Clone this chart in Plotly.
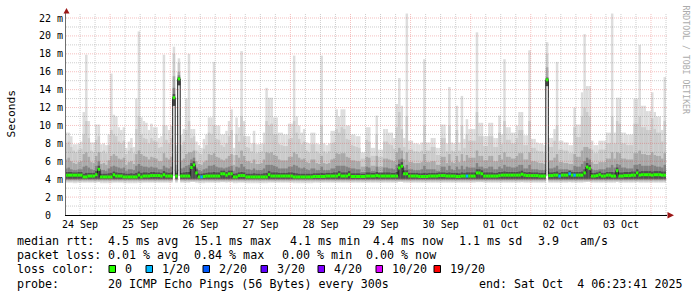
import pandas as pd
import plotly.graph_objects as go

# ---------------- data (milliseconds, one value per hour) ----------------
# first bin starts 2025-09-24 06:00, last graph instant 2025-10-04 06:23:41
ping_max = [
    9.2, 9.2, 8.8, 7.9, 7.9, 8.0, 8.2, 11.5, 17.9, 10.5, 8.1, 8.1, 10.1, 10.1, 7.9, 8.0, 7.8, 9.0, 15.8, 11.2,
    11.0, 9.8, 9.5, 9.8, 7.5, 8.2, 8.6, 7.6, 13.0, 20.5, 10.9, 10.5, 10.3, 9.5, 10.2, 9.8, 9.8, 8.6, 8.8, 17.9,
    10.0, 9.5, 10.0, 18.8, 7.8, 17.5, 9.0, 9.6, 13.0, 18.0, 9.6, 9.6, 8.2, 7.8, 7.5, 8.5, 9.0, 10.9, 10.9, 17.1,
    10.0, 10.0, 9.0, 9.0, 9.4, 10.5, 11.8, 7.5, 10.9, 9.8, 18.3, 10.5, 8.8, 8.8, 8.0, 9.4, 7.9, 7.9, 8.0, 9.2,
    14.2, 13.1, 13.1, 10.9, 10.9, 9.2, 9.2, 9.0, 9.0, 10.2, 10.2, 17.8, 11.0, 10.0, 9.2, 9.6, 8.1, 8.0, 9.2, 9.2,
    8.0, 7.9, 17.8, 8.0, 7.8, 8.0, 9.4, 9.4, 11.8, 11.0, 11.8, 11.8, 10.0, 10.0, 9.0, 9.0, 8.8, 8.8, 7.0, 7.0,
    9.8, 9.8, 7.5, 7.5, 11.1, 7.3, 7.3, 9.6, 9.6, 9.2, 9.2, 8.6, 12.4, 15.3, 12.2, 8.6, 22.5, 8.3, 8.3, 8.0,
    8.0, 7.9, 8.1, 17.4, 8.1, 8.1, 8.6, 8.6, 7.5, 7.5, 10.1, 10.1, 8.0, 14.3, 8.1, 8.0, 12.2, 8.1, 13.3, 8.5,
    10.7, 9.6, 9.6, 9.6, 20.4, 10.3, 10.3, 8.8, 8.8, 10.3, 10.3, 8.6, 8.6, 11.1, 9.0, 17.4, 9.8, 9.8, 9.2, 9.2,
    10.0, 11.5, 11.5, 8.9, 8.9, 18.4, 8.5, 8.5, 8.1, 8.0, 8.0, 7.8, 19.3, 8.6, 8.6, 9.6, 17.1, 8.3, 8.3, 8.1,
    8.1, 7.8, 7.8, 12.0, 10.1, 10.1, 13.7, 20.2, 14.4, 14.4, 8.3, 7.8, 7.8, 8.3, 8.3, 8.3, 9.2, 9.2, 22.5, 9.2,
    13.1, 13.1, 9.2, 9.2, 9.0, 9.0, 9.0, 13.0, 13.0, 19.0, 12.2, 12.2, 11.6, 11.6, 13.7, 11.5, 11.0, 11.0, 9.5, 15.4,
]
band2_top = [
    8.0, 8.2, 7.6, 7.2, 7.0, 7.3, 7.4, 9.0, 10.5, 8.6, 7.2, 7.0, 8.4, 8.8, 7.0, 7.2, 6.9, 7.8, 9.5, 9.0,
    8.8, 8.2, 8.0, 8.3, 6.8, 7.2, 7.5, 6.9, 9.6, 11.0, 9.0, 8.6, 8.5, 8.0, 8.6, 8.3, 8.2, 7.5, 7.6, 10.0,
    8.4, 8.0, 8.6, 18.0, 6.8, 17.0, 7.8, 8.2, 9.5, 10.5, 8.6, 8.8, 7.2, 6.9, 6.8, 7.4, 7.8, 9.2, 9.0, 10.0,
    8.5, 8.4, 7.8, 7.6, 8.0, 8.8, 9.5, 6.7, 9.0, 8.2, 11.0, 8.8, 7.6, 7.5, 7.1, 8.0, 6.9, 7.0, 7.1, 7.9,
    10.5, 10.0, 10.2, 9.0, 9.0, 7.9, 7.8, 7.7, 7.7, 8.5, 8.6, 10.5, 9.2, 8.5, 7.9, 8.2, 7.2, 7.0, 7.9, 7.9,
    7.1, 6.9, 10.0, 7.1, 6.9, 7.1, 8.0, 8.1, 9.6, 9.2, 9.8, 9.6, 8.5, 8.4, 7.8, 7.7, 7.6, 7.5, 6.3, 6.3,
    8.4, 8.2, 6.6, 6.6, 9.0, 6.5, 6.5, 8.2, 8.2, 7.9, 7.8, 7.4, 9.8, 11.5, 9.6, 7.6, 11.0, 7.3, 7.3, 7.1,
    7.1, 7.0, 7.2, 10.0, 7.2, 7.2, 7.6, 7.6, 6.7, 6.7, 8.6, 8.6, 7.1, 10.0, 7.2, 7.1, 9.5, 7.2, 10.0, 7.5,
    9.0, 8.3, 8.3, 8.3, 11.5, 8.8, 8.8, 7.7, 7.7, 8.8, 8.8, 7.6, 7.6, 9.2, 7.9, 10.5, 8.4, 8.4, 8.0, 8.0,
    8.6, 9.5, 9.5, 7.8, 7.8, 10.5, 7.5, 7.5, 7.2, 7.1, 7.1, 6.9, 18.0, 7.6, 7.6, 8.3, 10.0, 7.3, 7.3, 7.2,
    7.2, 6.9, 6.9, 9.8, 8.7, 8.7, 11.0, 12.0, 11.5, 11.0, 7.3, 6.9, 6.9, 7.3, 7.3, 7.3, 8.0, 8.0, 11.0, 8.0,
    10.5, 10.2, 8.0, 8.0, 7.8, 7.8, 7.8, 10.2, 10.2, 11.0, 9.8, 9.8, 9.5, 9.5, 10.8, 9.6, 9.2, 9.2, 8.2, 10.5,
]
band4_top = [
    6.2, 6.4, 6.0, 5.8, 5.7, 5.9, 6.0, 6.8, 7.0, 6.5, 5.9, 5.8, 6.6, 7.0, 5.7, 5.8, 5.6, 6.1, 6.6, 6.8,
    6.6, 6.3, 6.2, 6.4, 5.6, 5.9, 6.0, 5.7, 6.8, 7.2, 6.8, 6.6, 6.5, 6.2, 6.5, 6.4, 6.3, 6.0, 6.0, 6.9,
    6.4, 6.2, 6.5, 15.5, 5.6, 16.0, 6.1, 6.3, 6.8, 7.0, 7.0, 7.2, 6.0, 5.7, 5.6, 5.9, 6.1, 6.8, 6.7, 6.9,
    6.5, 6.4, 6.2, 6.1, 6.3, 6.6, 6.8, 5.6, 6.7, 6.4, 7.2, 6.6, 6.0, 6.0, 5.8, 6.2, 5.7, 5.7, 5.8, 6.2,
    7.0, 6.9, 7.0, 6.7, 6.6, 6.2, 6.1, 6.1, 6.1, 6.5, 6.5, 7.0, 6.8, 6.4, 6.2, 6.3, 5.9, 5.8, 6.2, 6.2,
    5.8, 5.7, 6.6, 5.8, 5.7, 5.8, 6.2, 6.3, 6.9, 6.8, 6.9, 6.9, 6.5, 6.4, 6.1, 6.1, 6.0, 6.0, 5.4, 5.4,
    6.5, 6.4, 5.5, 5.5, 6.6, 5.4, 5.4, 6.3, 6.3, 6.2, 6.1, 6.0, 7.0, 7.5, 7.2, 6.2, 7.0, 5.9, 5.9, 5.8,
    5.8, 5.8, 5.9, 6.8, 5.9, 5.9, 6.0, 6.0, 5.6, 5.6, 6.5, 6.5, 5.8, 6.8, 5.9, 5.8, 6.6, 5.9, 6.8, 6.0,
    6.7, 6.4, 6.4, 6.4, 7.2, 6.6, 6.6, 6.1, 6.1, 6.6, 6.6, 6.0, 6.0, 6.7, 6.2, 7.0, 6.5, 6.5, 6.3, 6.3,
    6.6, 6.9, 6.9, 6.2, 6.2, 7.0, 6.0, 6.0, 5.9, 5.8, 5.8, 5.7, 16.5, 6.1, 6.1, 6.4, 6.8, 5.9, 5.9, 5.8,
    5.8, 5.7, 5.7, 6.8, 6.5, 6.5, 7.2, 7.6, 7.6, 7.4, 5.9, 5.7, 5.7, 5.9, 5.9, 5.9, 6.3, 6.3, 7.0, 6.3,
    7.0, 6.9, 6.3, 6.3, 6.2, 6.2, 6.2, 6.9, 6.9, 7.2, 6.8, 6.8, 6.7, 6.7, 7.0, 6.7, 6.6, 6.6, 6.3, 6.9,
]
band6_top = [
    5.2, 5.3, 5.1, 5.0, 5.0, 5.1, 5.1, 5.4, 5.5, 5.3, 5.1, 5.0, 5.5, 6.0, 5.0, 5.0, 4.9, 5.2, 5.4, 5.5,
    5.4, 5.3, 5.2, 5.3, 4.9, 5.1, 5.1, 5.0, 5.5, 5.7, 5.5, 5.4, 5.4, 5.3, 5.4, 5.3, 5.3, 5.1, 5.1, 5.5,
    5.3, 5.2, 5.4, 14.2, 4.9, 15.6, 5.2, 5.3, 5.5, 5.6, 6.2, 6.4, 5.3, 5.0, 4.9, 5.1, 5.2, 5.5, 5.5, 5.6,
    5.4, 5.3, 5.3, 5.2, 5.3, 5.4, 5.5, 4.9, 5.4, 5.3, 5.7, 5.4, 5.1, 5.1, 5.0, 5.2, 5.0, 5.0, 5.0, 5.2,
    5.6, 5.6, 5.6, 5.5, 5.4, 5.2, 5.2, 5.2, 5.2, 5.4, 5.4, 5.6, 5.5, 5.3, 5.2, 5.3, 5.1, 5.0, 5.2, 5.2,
    5.0, 5.0, 5.4, 5.0, 5.0, 5.0, 5.2, 5.2, 5.5, 5.5, 5.5, 5.5, 5.4, 5.3, 5.2, 5.2, 5.1, 5.1, 4.8, 4.8,
    5.4, 5.3, 4.9, 4.9, 5.4, 4.8, 4.8, 5.3, 5.3, 5.2, 5.2, 5.1, 5.6, 6.2, 6.3, 5.3, 5.6, 5.1, 5.1, 5.0,
    5.0, 5.0, 5.1, 5.5, 5.1, 5.1, 5.1, 5.1, 4.9, 4.9, 5.4, 5.4, 5.0, 5.5, 5.1, 5.0, 5.4, 5.1, 5.5, 5.1,
    5.4, 5.3, 5.3, 5.3, 5.8, 5.4, 5.4, 5.2, 5.2, 5.4, 5.4, 5.1, 5.1, 5.4, 5.2, 5.6, 5.4, 5.4, 5.3, 5.3,
    5.4, 5.6, 5.6, 5.2, 5.2, 5.6, 5.1, 5.1, 5.1, 5.0, 5.0, 5.0, 15.4, 5.2, 5.2, 5.3, 5.5, 5.1, 5.1, 5.1,
    5.1, 5.0, 5.0, 5.5, 5.4, 5.4, 5.7, 6.0, 6.4, 6.2, 5.1, 5.0, 5.0, 5.1, 5.1, 5.1, 5.3, 5.3, 5.6, 5.3,
    5.7, 5.6, 5.3, 5.3, 5.2, 5.2, 5.2, 5.6, 5.6, 5.7, 5.5, 5.5, 5.5, 5.5, 5.6, 5.5, 5.4, 5.4, 5.3, 5.6,
]
band8_top = [
    4.8, 4.8, 4.8, 4.75, 4.75, 4.8, 4.8, 4.6, 4.7, 4.7, 4.7, 4.7, 4.9, 5.5, 4.6, 4.6, 4.6, 4.65, 4.7, 4.85,
    4.75, 4.7, 4.7, 4.65, 4.6, 4.6, 4.65, 4.6, 4.7, 4.85, 4.7, 4.75, 4.75, 4.7, 4.8, 4.8, 4.75, 4.75, 4.7, 4.9,
    4.75, 4.7, 4.75, 13.5, 4.7, 15.4, 4.7, 4.75, 4.8, 4.8, 5.8, 6.0, 5.1, 4.6, 4.6, 4.65, 4.7, 4.75, 4.75, 4.8,
    4.75, 4.75, 4.95, 4.95, 4.8, 4.95, 4.95, 4.6, 4.65, 4.75, 4.8, 4.75, 4.6, 4.6, 4.6, 4.65, 4.6, 4.6, 4.6, 4.65,
    4.7, 4.9, 4.75, 4.75, 4.75, 4.7, 4.7, 4.7, 4.7, 4.75, 4.75, 4.7, 4.65, 4.6, 4.6, 4.6, 4.6, 4.6, 4.6, 4.65,
    4.65, 4.65, 4.7, 4.65, 4.7, 4.7, 4.7, 4.75, 4.75, 4.9, 4.75, 4.75, 4.75, 4.9, 4.65, 4.65, 4.65, 4.65, 4.6, 4.6,
    4.75, 4.75, 4.7, 4.7, 4.8, 4.7, 4.7, 4.75, 4.75, 4.75, 4.7, 4.7, 4.8, 5.7, 5.9, 5.0, 5.0, 4.7, 4.7, 4.7,
    4.7, 4.65, 4.65, 4.7, 4.65, 4.7, 4.7, 4.7, 4.7, 4.75, 4.75, 4.75, 4.7, 4.75, 4.7, 4.7, 4.7, 4.65, 4.75, 4.7,
    4.75, 4.75, 4.75, 4.75, 5.1, 5.1, 5.0, 4.75, 4.75, 4.75, 4.75, 4.7, 4.7, 4.8, 4.8, 4.85, 4.8, 4.8, 4.8, 4.8,
    4.8, 4.85, 4.95, 4.8, 4.75, 4.8, 4.75, 4.75, 4.75, 4.7, 4.7, 4.7, 15.3, 4.75, 4.75, 4.8, 4.85, 4.7, 4.8, 4.8,
    4.8, 4.95, 4.8, 4.8, 4.8, 4.8, 4.85, 5.1, 5.8, 5.6, 4.7, 4.7, 4.75, 4.85, 4.7, 4.7, 4.8, 4.8, 4.8, 4.75,
    5.3, 4.75, 4.75, 4.8, 4.8, 4.8, 4.85, 4.85, 5.1, 4.85, 4.9, 4.9, 4.9, 4.9, 4.85, 4.9, 4.9, 4.9, 4.85, 4.85,
]
ping_min = [
    3.6, 3.6, 3.6, 3.55, 3.55, 3.6, 3.6, 3.6, 3.6, 3.6, 3.6, 3.6, 3.6, 3.65, 3.55, 3.55, 3.55, 3.55, 3.55, 3.6,
    3.6, 3.6, 3.6, 3.55, 3.55, 3.55, 3.55, 3.55, 3.55, 3.6, 3.55, 3.6, 3.6, 3.6, 3.6, 3.6, 3.6, 3.6, 3.6, 3.6,
    3.6, 3.6, 3.6, 12.2, 3.6, 14.5, 3.6, 3.6, 3.6, 3.6, 3.7, 3.7, 3.6, 3.55, 3.55, 3.55, 3.6, 3.6, 3.6, 3.6,
    3.6, 3.6, 3.65, 3.65, 3.6, 3.65, 3.65, 3.55, 3.55, 3.6, 3.6, 3.6, 3.55, 3.55, 3.55, 3.55, 3.55, 3.55, 3.55, 3.55,
    3.55, 3.6, 3.6, 3.6, 3.6, 3.6, 3.6, 3.6, 3.6, 3.6, 3.6, 3.55, 3.55, 3.55, 3.55, 3.55, 3.55, 3.55, 3.55, 3.6,
    3.6, 3.6, 3.6, 3.6, 3.6, 3.6, 3.6, 3.6, 3.6, 3.6, 3.6, 3.6, 3.6, 3.6, 3.6, 3.6, 3.6, 3.6, 3.6, 3.6,
    3.6, 3.6, 3.6, 3.6, 3.6, 3.6, 3.6, 3.6, 3.6, 3.6, 3.6, 3.6, 3.6, 3.7, 3.7, 3.6, 3.6, 3.6, 3.6, 3.6,
    3.6, 3.6, 3.6, 3.6, 3.6, 3.6, 3.6, 3.6, 3.6, 3.6, 3.6, 3.6, 3.6, 3.6, 3.6, 3.6, 3.6, 3.6, 3.6, 3.6,
    3.6, 3.6, 3.6, 3.6, 3.65, 3.65, 3.65, 3.6, 3.6, 3.6, 3.6, 3.6, 3.6, 3.6, 3.6, 3.6, 3.6, 3.6, 3.6, 3.6,
    3.6, 3.6, 3.65, 3.6, 3.6, 3.6, 3.6, 3.6, 3.6, 3.6, 3.6, 3.6, 14.4, 3.6, 3.6, 3.6, 3.6, 3.6, 3.6, 3.6,
    3.6, 3.65, 3.6, 3.6, 3.6, 3.6, 3.6, 3.65, 3.7, 3.7, 3.6, 3.6, 3.6, 3.6, 3.6, 3.6, 3.6, 3.6, 3.6, 3.6,
    3.7, 3.6, 3.6, 3.6, 3.6, 3.6, 3.6, 3.6, 3.65, 3.6, 3.6, 3.6, 3.6, 3.6, 3.6, 3.6, 3.6, 3.6, 3.6, 3.6,
]
median_rtt = [
    4.45, 4.45, 4.45, 4.45, 4.45, 4.45, 4.45, 4.25, 4.25, 4.35, 4.35, 4.35, 4.5, 5.1, 4.25, 4.25, 4.25, 4.25, 4.25, 4.5,
    4.35, 4.35, 4.35, 4.25, 4.25, 4.25, 4.25, 4.25, 4.25, 4.45, 4.25, 4.35, 4.35, 4.35, 4.4, 4.4, 4.4, 4.4, 4.35, 4.5,
    4.35, 4.35, 4.35, 13.1, 4.35, 15.2, 4.35, 4.35, 4.35, 4.35, 5.3, 5.6, 4.7, 4.25, 4.25, 4.3, 4.35, 4.35, 4.35, 4.35,
    4.35, 4.35, 4.6, 4.6, 4.45, 4.6, 4.6, 4.25, 4.25, 4.4, 4.4, 4.4, 4.25, 4.25, 4.25, 4.25, 4.25, 4.25, 4.25, 4.25,
    4.25, 4.5, 4.35, 4.35, 4.35, 4.35, 4.35, 4.35, 4.35, 4.35, 4.35, 4.25, 4.25, 4.25, 4.25, 4.25, 4.25, 4.25, 4.25, 4.3,
    4.3, 4.3, 4.3, 4.3, 4.35, 4.35, 4.35, 4.35, 4.35, 4.5, 4.35, 4.35, 4.35, 4.5, 4.3, 4.3, 4.3, 4.3, 4.3, 4.3,
    4.35, 4.35, 4.35, 4.35, 4.4, 4.35, 4.35, 4.35, 4.35, 4.35, 4.35, 4.35, 4.35, 5.25, 5.45, 4.6, 4.6, 4.35, 4.35, 4.35,
    4.35, 4.3, 4.3, 4.3, 4.3, 4.35, 4.35, 4.35, 4.35, 4.4, 4.4, 4.4, 4.35, 4.35, 4.35, 4.35, 4.3, 4.3, 4.35, 4.35,
    4.35, 4.35, 4.35, 4.35, 4.7, 4.7, 4.6, 4.35, 4.35, 4.35, 4.35, 4.35, 4.35, 4.4, 4.45, 4.45, 4.45, 4.45, 4.45, 4.45,
    4.45, 4.45, 4.55, 4.45, 4.4, 4.4, 4.4, 4.4, 4.4, 4.35, 4.35, 4.35, 15.1, 4.4, 4.4, 4.45, 4.45, 4.35, 4.45, 4.45,
    4.45, 4.6, 4.45, 4.45, 4.45, 4.45, 4.45, 4.7, 5.35, 5.2, 4.35, 4.35, 4.4, 4.5, 4.35, 4.35, 4.45, 4.45, 4.35, 4.35,
    4.95, 4.35, 4.35, 4.4, 4.4, 4.4, 4.45, 4.45, 4.7, 4.45, 4.5, 4.5, 4.5, 4.5, 4.45, 4.5, 4.5, 4.5, 4.45, 4.45,
]
loss = [
    0, 0, 0, 0, 0, 0, 0, 0, 0, 0, 0, 0, 0, 0, 0, 0, 0, 0, 0, 0,
    0, 0, 0, 0, 0, 0, 0, 0, 0, 0, 0, 0, 0, 0, 0, 0, 0, 0, 0, 0,
    0, 0, 0, 0, 0, 0, 0, 0, 0, 0, 0, 0, 0, 0, 1, 0, 0, 0, 0, 0,
    0, 0, 0, 0, 0, 0, 0, 0, 0, 0, 0, 0, 0, 0, 0, 0, 0, 0, 0, 0,
    0, 0, 0, 0, 0, 0, 0, 0, 0, 0, 0, 0, 0, 0, 0, 0, 0, 0, 0, 0,
    0, 0, 0, 0, 0, 0, 0, 0, 0, 0, 0, 0, 0, 0, 0, 0, 0, 0, 0, 0,
    0, 0, 0, 0, 0, 0, 0, 0, 0, 0, 0, 0, 0, 0, 0, 0, 0, 0, 0, 0,
    0, 0, 0, 0, 0, 0, 0, 0, 0, 0, 0, 0, 0, 0, 0, 0, 0, 0, 0, 0,
    1, 0, 0, 0, 0, 0, 0, 0, 0, 0, 0, 0, 0, 0, 0, 0, 0, 0, 0, 0,
    0, 0, 0, 0, 0, 0, 0, 0, 0, 0, 0, 0, 0, 0, 0, 0, 0, 1, 0, 0,
    0, 1, 0, 1, 0, 0, 0, 0, 0, 0, 0, 0, 0, 0, 0, 0, 0, 0, 0, 0,
    0, 0, 0, 0, 0, 0, 0, 0, 0, 0, 0, 0, 0, 0, 0, 0, 0, 0, 0, 0,
]
# flat lower edges of the inner smoke shades (ms)
band_floor = [3.72, 3.85, 3.95, 4.05]

loss_labels = ["0", "1/20", "2/20", "3/20", "4/20", "10/20", "19/20"]
loss_thresholds = [0, 1, 2, 3, 4, 10, 19]
loss_colors = ["#26ff00", "#00b8ff", "#0059ff", "#5e00ff", "#7e00ff", "#dd00ff", "#ff0000"]

x_tick_text = ["24 Sep", "25 Sep", "26 Sep", "27 Sep", "28 Sep", "29 Sep", "30 Sep", "01 Oct", "02 Oct", "03 Oct"]
y_tick_vals = [0, 2, 4, 6, 8, 10, 12, 14, 16, 18, 20, 22]
y_tick_text = ["0\u00a0\u00a0", "2 m", "4 m", "6 m", "8 m", "10 m", "12 m", "14 m", "16 m", "18 m", "20 m", "22 m"]

legend_rtt = ["median rtt:", "4.5 ms avg", "15.1 ms max", "4.1 ms min", "4.4 ms now", "1.1 ms sd", "3.9", "am/s"]
legend_pl = ["packet loss:", "0.01 % avg", "0.84 % max", "0.00 % min", "0.00 % now"]
probe_text = ["probe:", "20 ICMP Echo Pings (56 Bytes) every 300s", "end: Sat Oct\u00a0 4 06:23:41 2025"]

# ---------------- geometry / style ----------------
W, H = 697, 297
ML, MR, MT, MB = 66, 30, 13, 82
PW, PH = W - ML - MR, H - MT - MB
Y_TOP = 22.56
MONO = "DejaVu Sans Mono"

n = len(median_rtt)
for arr in (ping_max, band2_top, band4_top, band6_top, band8_top, ping_min, loss):
    assert len(arr) == n
bin_start = pd.Timestamp("2025-09-24 06:00:00")
t_end = pd.Timestamp("2025-10-04 06:23:41")
t_begin = t_end - pd.Timedelta(days=10)
edges = pd.date_range(bin_start, periods=n + 1, freq="h")
centers = edges[:-1] + pd.Timedelta(minutes=30)
BAR_W = 3600 * 1000


def px_x(px):
    return (px - ML) / PW


def px_y(py):
    return (MT + PH - py) / PH


fig = go.Figure()

shades = [
    (ping_min, ping_max, "#dddddd"),
    ([max(band_floor[0], v) for v in ping_min], band2_top, "#cbcbcb"),
    ([max(band_floor[1], v) for v in ping_min], band4_top, "#aaaaaa"),
    ([max(band_floor[2], v) for v in ping_min], band6_top, "#838383"),
    ([max(band_floor[3], v) for v in ping_min], band8_top, "#4e4e4e"),
]
for lo, hi, col in shades:
    fig.add_trace(go.Bar(
        x=centers, base=lo, y=[h - l for h, l in zip(hi, lo)], width=BAR_W,
        marker=dict(color=col, line=dict(width=0)), hoverinfo="skip",
    ))

# thin dark median line (visible on jumps)
fig.add_trace(go.Scatter(
    x=edges, y=median_rtt + [median_rtt[-1]], mode="lines",
    line=dict(shape="hv", color="#1a1a1a", width=1), hoverinfo="skip",
))


def loss_class(v):
    k = 0
    for i, t in enumerate(loss_thresholds):
        if v >= t:
            k = i
    return k


for k, col in enumerate(loss_colors):
    xs, ys = [], []
    for i in range(n):
        if loss_class(loss[i]) == k:
            xs += [edges[i], edges[i + 1], None]
            ys += [median_rtt[i], median_rtt[i], None]
    if xs:
        fig.add_trace(go.Scatter(x=xs, y=ys, mode="lines", line=dict(color=col, width=3),
                                 hoverinfo="skip", connectgaps=False))

MAJOR_GRID = "rgba(225,60,60,0.32)"
MINOR_GRID = "rgba(110,110,110,0.34)"
shapes = []
# vertical grid: every 6 h, red at midnight
for t in pd.date_range("2025-09-24 12:00", t_end, freq="6h"):
    major = t.hour == 0
    shapes.append(dict(type="line", xref="x", yref="paper", x0=t, x1=t, y0=0, y1=1, layer="above",
                       line=dict(color=MAJOR_GRID if major else MINOR_GRID, width=1, dash="1px,1px")))
# horizontal grid: every 1 ms, red at labelled values
for v in range(1, 23):
    major = v % 2 == 0
    shapes.append(dict(type="line", xref="paper", yref="y", x0=0, x1=1, y0=v, y1=v, layer="above",
                       line=dict(color=MAJOR_GRID if major else MINOR_GRID, width=1, dash="1px,1px")))
# axis arrows
arrow_col = "#9b1616"
shapes.append(dict(type="path", xref="paper", yref="paper", fillcolor=arrow_col, line=dict(width=0),
                   path=f"M {px_x(63.5)} {px_y(13.5)} L {px_x(69.5)} {px_y(13.5)} L {px_x(66.5)} {px_y(8)} Z"))
shapes.append(dict(type="path", xref="paper", yref="paper", fillcolor=arrow_col, line=dict(width=0),
                   path=f"M {px_x(667.5)} {px_y(212)} L {px_x(667.5)} {px_y(218.5)} L {px_x(674)} {px_y(215.2)} Z"))

annotations = []


def txt(x, y, s, size=11.66, color="black", angle=0, xanchor="left"):
    annotations.append(dict(x=px_x(x), y=px_y(y), xref="paper", yref="paper", text=s, showarrow=False,
                            xanchor=xanchor, yanchor="middle", textangle=angle,
                            font=dict(family=MONO, size=size, color=color), borderpad=0))


rtt_x = [16, 107.3, 193.3, 288.5, 372.3, 458.3, 536.7, 579.3]
for x, s in zip(rtt_x, legend_rtt):
    txt(x, 241, s)
pl_x = [16, 107.3, 193.3, 280.5, 365]
for x, s in zip(pl_x, legend_pl):
    txt(x, 255.3, s)
txt(16, 269.3, "loss color:")
box_x = [109, 146, 203, 261, 318, 376, 434]
for bx, lab, col in zip(box_x, loss_labels, loss_colors):
    shapes.append(dict(type="rect", xref="paper", yref="paper", x0=px_x(bx), x1=px_x(bx + 6.5),
                       y0=px_y(272.5), y1=px_y(265.5), fillcolor=col, line=dict(color="black", width=1)))
    txt(bx + 15, 269.3, lab)
for x, s in zip([16, 107.3, 478.3], probe_text):
    txt(x, 283.7, s)

txt(11, 113.5, "Seconds", size=11.3, angle=-90, xanchor="center")
txt(686, 59.5, "RRDTOOL / TOBI OETIKER", size=8.2, color="#ababab", angle=90, xanchor="center")

noon = pd.date_range("2025-09-24 12:00", periods=len(x_tick_text), freq="D")

fig.update_layout(
    width=W, height=H, margin=dict(l=ML, r=MR, t=MT, b=MB),
    paper_bgcolor="white", plot_bgcolor="white", barmode="overlay", showlegend=False,
    font=dict(family=MONO, color="black"),
    shapes=shapes, annotations=annotations,
    xaxis=dict(type="date", range=[t_begin, t_end], showgrid=False, zeroline=False, showline=True,
               linecolor="black", linewidth=1, ticks="", tickvals=noon, ticktext=x_tick_text,
               tickfont=dict(family=MONO, size=10, color="black"), fixedrange=True),
    yaxis=dict(range=[0, Y_TOP], showgrid=False, zeroline=False, showline=True, linecolor="#6e6e6e",
               linewidth=1, ticks="", tickvals=y_tick_vals, ticktext=y_tick_text,
               tickfont=dict(family=MONO, size=10, color="black"), fixedrange=True),
)

fig.write_html("out.html")
